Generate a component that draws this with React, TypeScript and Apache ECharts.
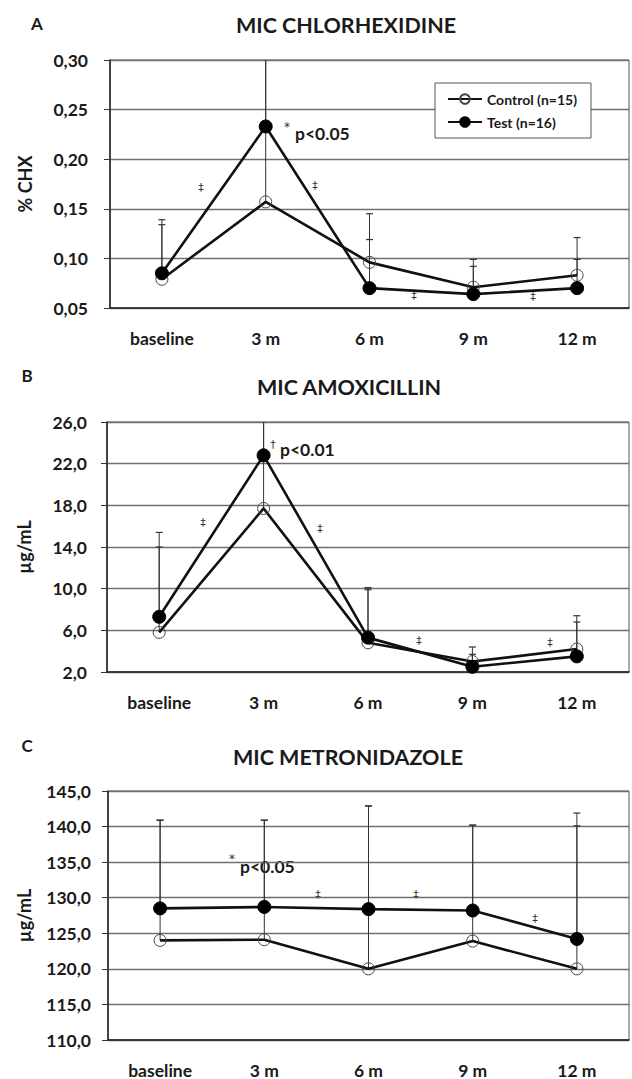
import React, { useEffect, useRef } from "react";
import * as echarts from "echarts";

const CATEGORIES = ["baseline", "3 m", "6 m", "9 m", "12 m"];

// Panel A – chlorhexidine (% CHX)
const CHX_TICKS = [0.05, 0.1, 0.15, 0.2, 0.25, 0.3];
const CHX_TICK_LABELS = ["0,05", "0,10", "0,15", "0,20", "0,25", "0,30"];
const CHX_CONTROL = [0.079, 0.157, 0.096, 0.071, 0.083];
const CHX_TEST = [0.085, 0.233, 0.070, 0.064, 0.070];
const CHX_CONTROL_UPPER = [0.139, 0.32, 0.145, 0.099, 0.121];
const CHX_TEST_UPPER = [0.134, 0.33, 0.119, 0.092, 0.099];

// Panel B – amoxicillin (µg/mL)
const AMX_TICKS = [2, 6, 10, 14, 18, 22, 26];
const AMX_TICK_LABELS = ["2,0", "6,0", "10,0", "14,0", "18,0", "22,0", "26,0"];
const AMX_CONTROL = [5.8, 17.7, 4.8, 3.0, 4.2];
const AMX_TEST = [7.3, 22.8, 5.3, 2.5, 3.5];
const AMX_CONTROL_UPPER = [14.0, 27.0, 9.9, 4.4, 7.4];
const AMX_TEST_UPPER = [15.4, 28.0, 10.1, 3.7, 6.8];

// Panel C – metronidazole (µg/mL)
const MTZ_TICKS = [110, 115, 120, 125, 130, 135, 140, 145];
const MTZ_TICK_LABELS = ["110,0", "115,0", "120,0", "125,0", "130,0", "135,0", "140,0", "145,0"];
const MTZ_CONTROL = [124.0, 124.1, 120.0, 123.9, 120.0];
const MTZ_TEST = [128.5, 128.7, 128.4, 128.2, 124.2];
const MTZ_CONTROL_UPPER = [140.9, 140.9, 142.9, 140.2, 141.9];
const MTZ_TEST_UPPER = [140.9, 140.9, 142.9, 140.2, 140.1];

const CONTROL_NAME = "Control (n=15)";
const TEST_NAME = "Test (n=16)";

const FONT = "Lato, 'Open Sans', 'Noto Sans', sans-serif";
const SYM_FONT = "'DejaVu Sans', 'Noto Sans', sans-serif";
const TEXT_COLOR = "#1a1a1a";
const GRID_COLOR = "#6f6f6f";

function labelFor(ticks: number[], labels: string[]) {
  return (v: number) => {
    const i = ticks.findIndex((t) => Math.abs(t - v) < 1e-6);
    return i >= 0 ? labels[i] : "";
  };
}

function errorBarSeries(idx: number, means: number[], uppers: number[]) {
  return {
    type: "custom",
    xAxisIndex: idx,
    yAxisIndex: idx,
    z: 1,
    silent: true,
    data: means.map((m, i) => [i, m, uppers[i]]),
    renderItem: (params: any, api: any) => {
      const base = api.coord([api.value(0), api.value(1)]);
      const top = api.coord([api.value(0), api.value(2)]);
      const minY = params.coordSys.y;
      const clipped = top[1] < minY;
      const ty = clipped ? minY : top[1];
      const children: any[] = [
        {
          type: "line",
          shape: { x1: base[0], y1: base[1], x2: base[0], y2: ty },
          style: { stroke: "#333", lineWidth: 1 },
        },
      ];
      if (!clipped) {
        children.push({
          type: "line",
          shape: { x1: base[0] - 3.5, y1: ty, x2: base[0] + 3.5, y2: ty },
          style: { stroke: "#333", lineWidth: 1.2 },
        });
      }
      return { type: "group", children };
    },
  };
}

function lineSeries(idx: number, name: string, data: number[], open: boolean) {
  return {
    type: "line",
    name,
    xAxisIndex: idx,
    yAxisIndex: idx,
    z: 3,
    data,
    symbol: "circle",
    symbolSize: open ? 12 : 13,
    showSymbol: true,
    lineStyle: { color: "#111", width: 2.6 },
    itemStyle: open
      ? { color: "rgba(255,255,255,0)", borderColor: "#444", borderWidth: 1 }
      : { color: "#000", borderColor: "#000", borderWidth: 1 },
  };
}

const GRIDS = [
  { left: 110, top: 60, width: 519, height: 248 },
  { left: 107, top: 422, width: 522, height: 250 },
  { left: 108, top: 791, width: 521, height: 249 },
];

function textEl(
  text: string,
  x: number,
  y: number,
  size: number,
  bold: boolean,
  align = "left",
  family = FONT,
  color = TEXT_COLOR
) {
  return {
    type: "text",
    x,
    y,
    silent: true,
    style: {
      text,
      fill: color,
      font: `${bold ? "bold " : ""}${size}px ${family}`,
      textAlign: align,
      textVerticalAlign: "middle",
      align,
      verticalAlign: "middle",
    },
  };
}

function sym(text: string, x: number, y: number, size = 11) {
  return textEl(text, x, y, size, false, "center", SYM_FONT, "#333");
}

export default function App() {
  const ref = useRef<HTMLDivElement>(null);

  useEffect(() => {
    if (!ref.current) return;
    const chart = echarts.init(ref.current, null, { renderer: "svg" });

    const yAxisCommon = {
      type: "value",
      nameLocation: "middle",
      nameRotate: 90,
      nameTextStyle: { fontFamily: FONT, fontWeight: "bold", fontSize: 18, color: TEXT_COLOR },
      axisLine: { show: true, lineStyle: { color: "#222", width: 1.5 } },
      axisTick: { show: true, inside: false, length: 6, lineStyle: { color: "#333", width: 1 } },
      splitLine: { show: true, lineStyle: { color: GRID_COLOR, width: 1.3 } },
    };

    const axisLabelFont = {
      fontFamily: FONT,
      fontWeight: "bold",
      fontSize: 17.5,
      color: TEXT_COLOR,
    };

    const xAxisCommon = {
      type: "category",
      data: CATEGORIES,
      boundaryGap: true,
      axisLine: { show: true, onZero: false, lineStyle: { color: "#222", width: 1.5 } },
      axisTick: { show: false },
      axisLabel: { margin: 21, ...axisLabelFont },
      splitLine: { show: false },
    };

    const option: any = {
      animation: false,
      backgroundColor: "#ffffff",
      grid: GRIDS.map((g) => ({
        ...g,
        show: true,
        borderColor: "#555",
        borderWidth: 1,
        backgroundColor: "transparent",
        containLabel: false,
      })),
      legend: {
        show: true,
        data: [CONTROL_NAME, TEST_NAME],
        orient: "vertical",
        left: 435,
        top: 83,
        padding: [9, 14, 9, 12],
        itemGap: 9,
        itemWidth: 34,
        itemHeight: 12,
        borderColor: "#555",
        borderWidth: 1,
        backgroundColor: "#fff",
        textStyle: { fontFamily: FONT, fontWeight: "bold", fontSize: 14, color: TEXT_COLOR },
        selectedMode: false,
      },
      xAxis: [0, 1, 2].map((i) => ({ ...xAxisCommon, gridIndex: i })),
      yAxis: [
        {
          ...yAxisCommon,
          gridIndex: 0,
          min: CHX_TICKS[0],
          max: CHX_TICKS[CHX_TICKS.length - 1],
          interval: 0.05,
          name: "% CHX",
          nameGap: 76,
          axisLabel: {
            margin: 22,
            ...axisLabelFont,
            formatter: labelFor(CHX_TICKS, CHX_TICK_LABELS),
          },
        },
        {
          ...yAxisCommon,
          gridIndex: 1,
          min: AMX_TICKS[0],
          max: AMX_TICKS[AMX_TICKS.length - 1],
          name: "µg/mL",
          nameGap: 74,
          axisTick: { ...yAxisCommon.axisTick, customValues: AMX_TICKS },
          axisLabel: {
            margin: 20,
            ...axisLabelFont,
            customValues: AMX_TICKS,
            formatter: labelFor(AMX_TICKS, AMX_TICK_LABELS),
          },
        },
        {
          ...yAxisCommon,
          gridIndex: 2,
          min: MTZ_TICKS[0],
          max: MTZ_TICKS[MTZ_TICKS.length - 1],
          interval: 5,
          name: "µg/mL",
          nameGap: 75,
          axisLabel: {
            margin: 17,
            ...axisLabelFont,
            formatter: labelFor(MTZ_TICKS, MTZ_TICK_LABELS),
          },
        },
      ],
      series: [
        errorBarSeries(0, CHX_CONTROL, CHX_CONTROL_UPPER),
        errorBarSeries(0, CHX_TEST, CHX_TEST_UPPER),
        lineSeries(0, CONTROL_NAME, CHX_CONTROL, true),
        lineSeries(0, TEST_NAME, CHX_TEST, false),
        errorBarSeries(1, AMX_CONTROL, AMX_CONTROL_UPPER),
        errorBarSeries(1, AMX_TEST, AMX_TEST_UPPER),
        lineSeries(1, CONTROL_NAME, AMX_CONTROL, true),
        lineSeries(1, TEST_NAME, AMX_TEST, false),
        errorBarSeries(2, MTZ_CONTROL, MTZ_CONTROL_UPPER),
        errorBarSeries(2, MTZ_TEST, MTZ_TEST_UPPER),
        lineSeries(2, CONTROL_NAME, MTZ_CONTROL, true),
        lineSeries(2, TEST_NAME, MTZ_TEST, false),
      ],
      graphic: [
        // panel letters and titles
        textEl("A", 37, 23, 17, true, "center"),
        textEl("MIC CHLORHEXIDINE", 346, 25, 21.5, true, "center"),
        textEl("B", 27, 375, 17, true, "center"),
        textEl("MIC AMOXICILLIN", 349, 387, 21.5, true, "center"),
        textEl("C", 27, 745, 17, true, "center"),
        textEl("MIC METRONIDAZOLE", 348, 757, 21.5, true, "center"),
        // panel A annotations
        sym("*", 287, 127, 12),
        textEl("p<0.05", 295, 133, 17.5, true, "left"),
        sym("‡", 201, 187),
        sym("‡", 315, 185),
        sym("‡", 414, 295),
        sym("‡", 533, 296),
        // panel B annotations
        sym("†", 273, 444),
        textEl("p<0.01", 280, 449, 17.5, true, "left"),
        sym("‡", 203, 522),
        sym("‡", 320, 528),
        sym("‡", 419, 640),
        sym("‡", 550, 642),
        // panel C annotations
        sym("*", 232, 859, 12),
        textEl("p<0.05", 240, 866, 17.5, true, "left"),
        sym("‡", 318, 894),
        sym("‡", 416, 894),
        sym("‡", 535, 918),
      ],
    };

    chart.setOption(option);
    return () => chart.dispose();
  }, []);

  return (
    <div
      ref={ref}
      style={{ position: "fixed", left: 0, top: 0, width: 632, height: 1079, background: "#fff" }}
    />
  );
}
